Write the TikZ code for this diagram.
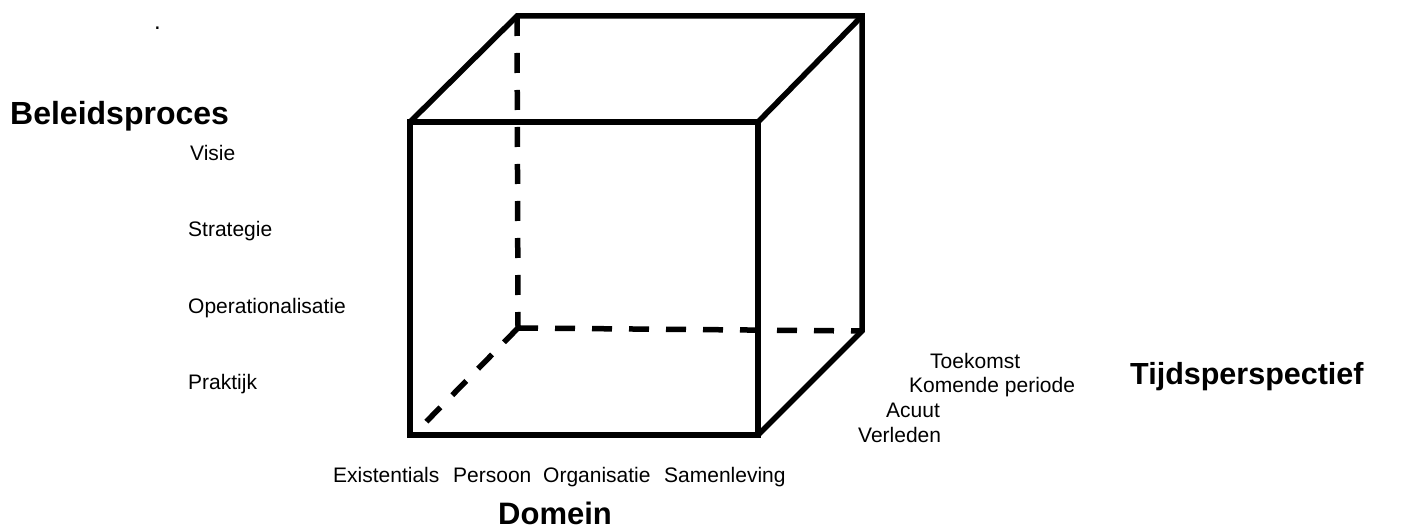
\documentclass[tikz,border=0pt]{standalone}
\usepackage{fontspec}
\setmainfont{Liberation Sans}
\begin{document}
\begin{tikzpicture}[x=1pt,y=-1pt,
  edge/.style={line width=5.5pt, line join=miter, miter limit=2, line cap=butt},
  hidden/.style={edge, dash pattern=on 20pt off 17pt},
  lbl/.style={anchor=base west, inner sep=0pt, font=\fontsize{21}{25}\selectfont},
  title/.style={anchor=base west, inner sep=0pt, font=\fontsize{31}{36}\selectfont\bfseries}]
  \useasboundingbox (0,0) rectangle (1402,529);

  % cube corners: front face and back face
  \coordinate (FTL) at (410,122);
  \coordinate (FTR) at (758,122);
  \coordinate (FBR) at (758,435);
  \coordinate (FBL) at (410,435);
  \coordinate (BTL) at (517,16);
  \coordinate (BTR) at (862,16);
  \coordinate (BBR) at (862,331);
  \coordinate (BBL) at (518,328);
  \coordinate (BDE) at (426,422);

  % hidden edges
  \draw[hidden] (BTL) -- (BBL);
  \draw[hidden] (BBL) -- (BBR);
  \draw[hidden] (BBL) -- (BDE);

  % visible edges
  \draw[edge] (FTL) -- (FTR) -- (FBR) -- (FBL) -- cycle;
  \draw[edge] (FTL) -- (BTL) -- (BTR) -- (BBR) -- (FBR);
  \draw[edge] (BTR) -- (FTR);

  % small dot above the vertical axis title
  \node[lbl, font=\fontsize{24}{28}\selectfont] (dot) at (154,30) {.};

  % vertical axis
  \node[title, font=\fontsize{32}{37}\selectfont\bfseries] (beleid) at (10,125) {Beleidsproces};
  \node[lbl] (visie) at (190,161) {Visie};
  \node[lbl] (strat) at (188,237) {Strategie};
  \node[lbl] (oper) at (188,313) {Operationalisatie};
  \node[lbl] (prak) at (188,389) {Praktijk};

  % depth axis
  \node[lbl] (toek) at (930,368) {Toekomst};
  \node[lbl] (komend) at (909,392) {Komende periode};
  \node[lbl] (acuut) at (886,417) {Acuut};
  \node[lbl] (verl) at (858,442) {Verleden};
  \node[title, font=\fontsize{30.5}{35}\selectfont\bfseries] (tijd) at (1130,384) {Tijdsperspectief};

  % horizontal axis
  \node[lbl] (exist) at (333,482) {Existentials};
  \node[lbl] (pers) at (453,482) {Persoon};
  \node[lbl] (org) at (543,482) {Organisatie};
  \node[lbl] (samen) at (664,482) {Samenleving};
  \node[title] (domein) at (498,524) {Domein};
\end{tikzpicture}
\end{document}
